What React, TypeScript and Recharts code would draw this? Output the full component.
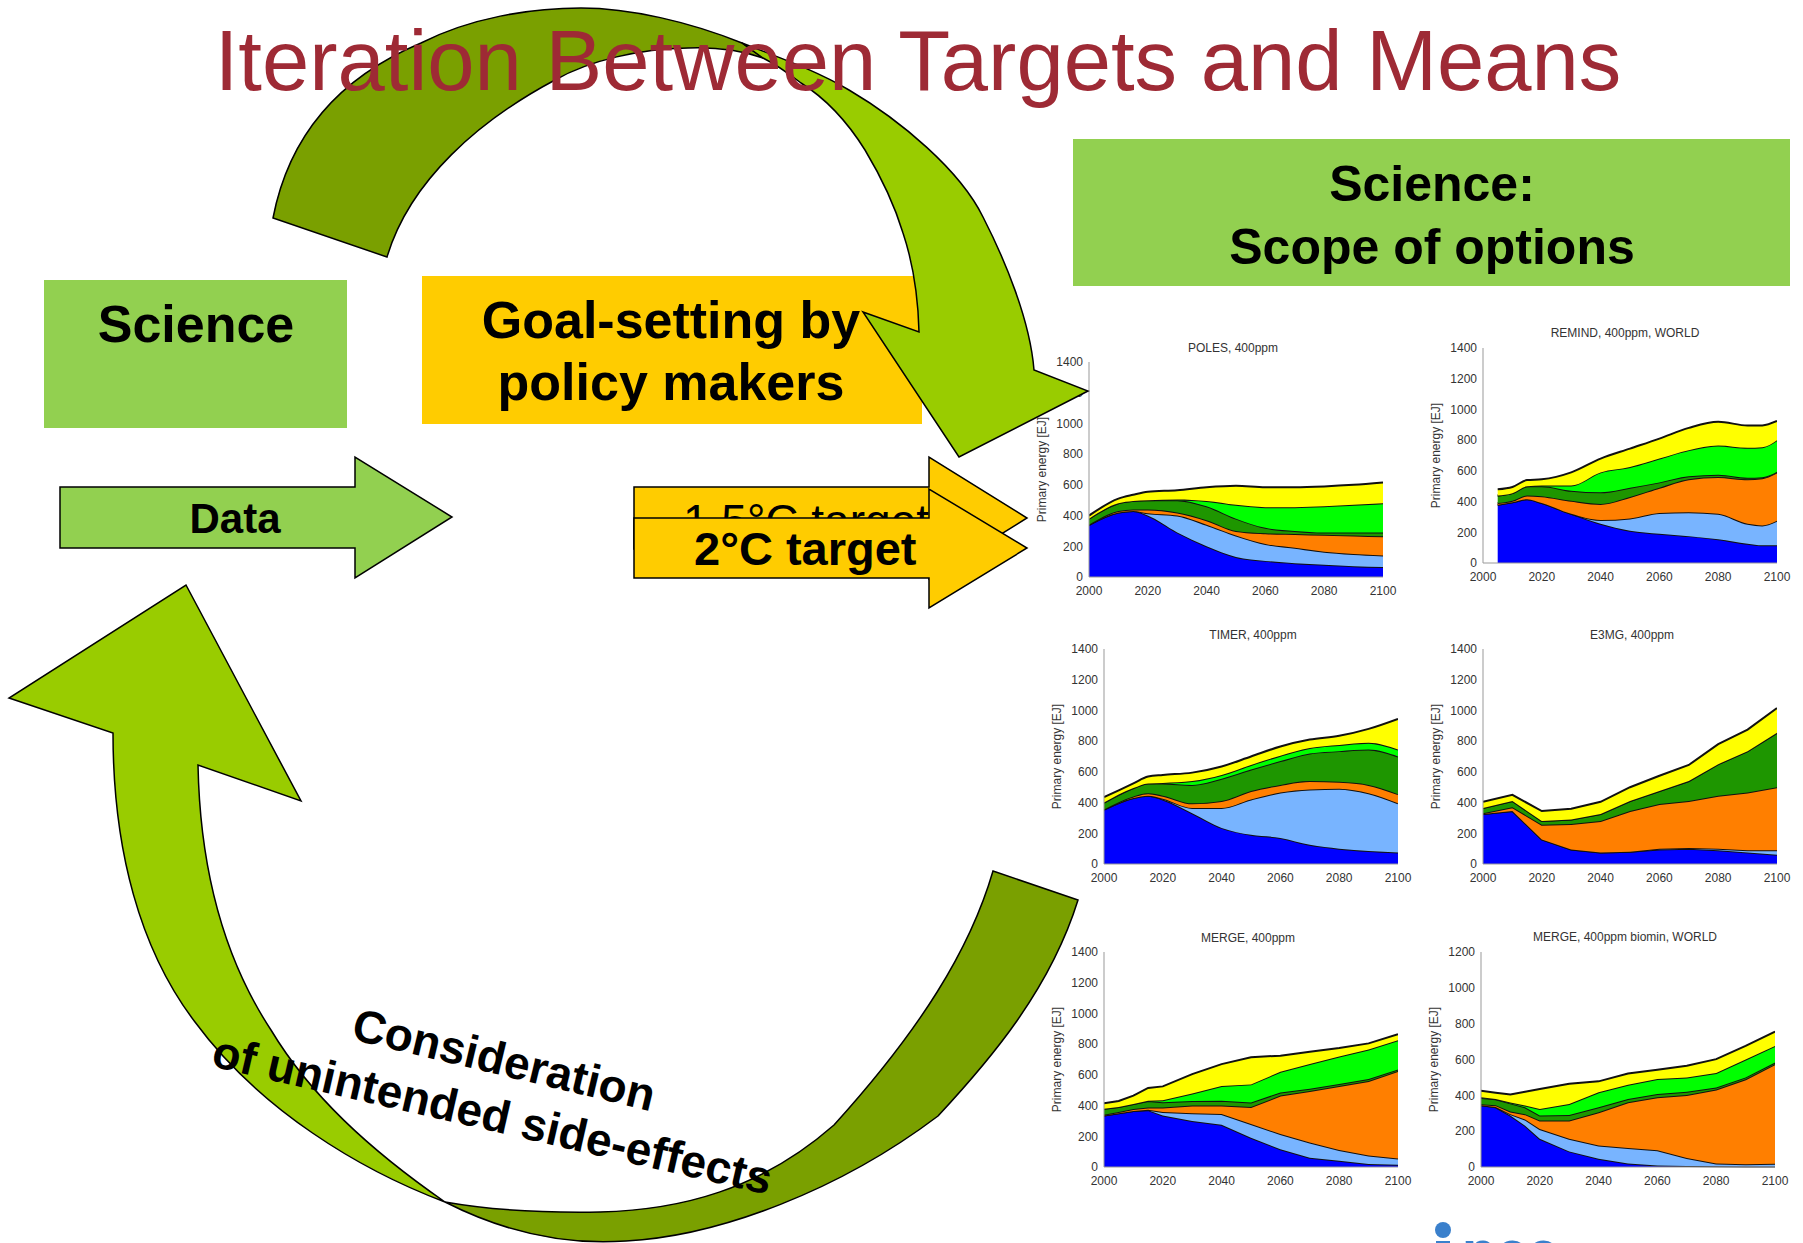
import React from 'react';
import { AreaChart, Area, XAxis, YAxis } from 'recharts';

// stacked primary energy layers, bottom to top: blue, light blue, orange, dark green, green, yellow
const LAYER_KEYS = ['blue', 'lightBlue', 'orange', 'darkGreen', 'green', 'yellow'];
const LAYER_COLORS = ['#0000FF', '#78B4FF', '#FF7F00', '#1E9600', '#00FF00', '#FFFF00'];

const X_TICKS = [2000, 2020, 2040, 2060, 2080, 2100];
const Y_TICKS_1400 = [0, 200, 400, 600, 800, 1000, 1200, 1400];
const Y_TICKS_1200 = [0, 200, 400, 600, 800, 1000, 1200];

const POLES_YEARS = [2000, 2010, 2015, 2020, 2030, 2040, 2050, 2060, 2070, 2080, 2090, 2100];
const POLES_BLUE = [340, 420, 430, 400, 290, 200, 130, 105, 90, 80, 70, 65];
const POLES_LIGHTBLUE = [0, 0, 0, 15, 110, 140, 140, 110, 100, 85, 80, 75];
const POLES_ORANGE = [0, 10, 10, 25, 20, 30, 30, 70, 90, 110, 120, 125];
const POLES_DARKGREEN = [40, 50, 55, 60, 80, 90, 80, 35, 20, 15, 20, 25];
const POLES_GREEN = [0, 0, 0, 0, 5, 35, 90, 135, 155, 170, 180, 190];
const POLES_YELLOW = [20, 30, 40, 55, 60, 90, 125, 130, 130, 130, 130, 135];

const REMIND_YEARS = [2005, 2010, 2015, 2020, 2030, 2040, 2050, 2060, 2070, 2080, 2090, 2095, 2100];
const REMIND_BLUE = [380, 395, 415, 390, 320, 255, 210, 190, 175, 155, 125, 115, 115];
const REMIND_LIGHTBLUE = [0, 0, 0, 0, 0, 25, 80, 135, 155, 165, 130, 130, 160];
const REMIND_ORANGE = [10, 10, 25, 45, 85, 105, 140, 165, 215, 240, 290, 307, 315];
const REMIND_DARKGREEN = [50, 50, 60, 65, 65, 75, 60, 35, 20, 15, 10, 7, 5];
const REMIND_GREEN = [0, 0, 0, 5, 35, 130, 135, 155, 170, 190, 195, 195, 205];
const REMIND_YELLOW = [40, 40, 40, 40, 85, 90, 120, 130, 145, 155, 145, 142, 125];

const TIMER_YEARS = [2000, 2010, 2015, 2020, 2030, 2040, 2050, 2060, 2070, 2080, 2090, 2100];
const TIMER_BLUE = [355, 430, 445, 420, 330, 235, 190, 170, 125, 100, 85, 75];
const TIMER_LIGHTBLUE = [0, 0, 0, 5, 35, 130, 230, 295, 360, 390, 375, 320];
const TIMER_ORANGE = [0, 10, 15, 20, 30, 45, 55, 50, 55, 45, 55, 60];
const TIMER_DARKGREEN = [45, 55, 65, 80, 120, 145, 140, 155, 180, 200, 230, 245];
const TIMER_GREEN = [0, 0, 0, 3, 25, 25, 30, 35, 35, 40, 45, 45];
const TIMER_YELLOW = [35, 30, 45, 52, 55, 55, 55, 60, 55, 60, 90, 200];

const E3MG_YEARS = [2000, 2010, 2020, 2030, 2040, 2050, 2060, 2070, 2080, 2090, 2100];
const E3MG_BLUE = [325, 345, 160, 95, 75, 80, 95, 100, 90, 75, 60];
const E3MG_LIGHTBLUE = [0, 0, 0, 0, 0, 0, 5, 5, 10, 15, 30];
const E3MG_ORANGE = [5, 25, 95, 165, 205, 265, 290, 305, 345, 375, 410];
const E3MG_DARKGREEN = [35, 40, 25, 30, 45, 65, 85, 130, 205, 270, 355];
const E3MG_GREEN = [0, 0, 0, 0, 0, 0, 0, 0, 0, 0, 0];
const E3MG_YELLOW = [40, 40, 65, 70, 80, 90, 100, 105, 130, 140, 160];

const MERGE_YEARS = [2000, 2005, 2010, 2015, 2020, 2030, 2040, 2050, 2060, 2070, 2080, 2090, 2100];
const MERGE_BLUE = [335, 350, 365, 370, 335, 300, 275, 190, 115, 60, 40, 20, 15];
const MERGE_LIGHTBLUE = [0, 0, 0, 2, 23, 50, 70, 90, 100, 100, 70, 55, 40];
const MERGE_ORANGE = [5, 8, 13, 16, 30, 50, 55, 110, 250, 335, 418, 485, 570];
const MERGE_DARKGREEN = [40, 32, 32, 42, 34, 30, 32, 30, 20, 15, 12, 13, 10];
const MERGE_GREEN = [0, 0, 0, 2, 12, 48, 96, 118, 135, 160, 180, 192, 190];
const MERGE_YELLOW = [35, 40, 55, 83, 91, 127, 142, 177, 105, 80, 55, 40, 40];

const BIOMIN_YEARS = [2000, 2005, 2010, 2015, 2020, 2030, 2040, 2050, 2060, 2070, 2080, 2090, 2100];
const BIOMIN_BLUE = [345, 333, 287, 230, 157, 87, 46, 19, 9, 6, 4, 3, 3];
const BIOMIN_LIGHTBLUE = [0, 2, 8, 35, 55, 70, 74, 87, 84, 44, 16, 12, 15];
const BIOMIN_ORANGE = [5, 10, 15, 30, 47, 102, 185, 255, 296, 352, 412, 475, 556];
const BIOMIN_DARKGREEN = [35, 33, 45, 38, 28, 31, 28, 19, 18, 18, 12, 10, 9];
const BIOMIN_GREEN = [5, 2, 5, 10, 37, 62, 84, 79, 84, 80, 80, 100, 93];
const BIOMIN_YELLOW = [35, 35, 45, 77, 111, 113, 61, 63, 52, 65, 78, 76, 80];

const toRows = (years: number[], layers: number[][]) =>
  years.map((year, i) => {
    const row: Record<string, number> = { year };
    LAYER_KEYS.forEach((k, j) => { row[k] = layers[j][i]; });
    return row;
  });

const FONT = '"Liberation Sans", Arial, sans-serif';

const PLOT_W = 294;
const PLOT_H = 215;
const AXIS_W = 60;
const TOP_PAD = 10;
const RIGHT_PAD = 22;
const X_AXIS_H = 26;

const PANELS = [
  { title: 'POLES, 400ppm', rows: toRows(POLES_YEARS, [POLES_BLUE, POLES_LIGHTBLUE, POLES_ORANGE, POLES_DARKGREEN, POLES_GREEN, POLES_YELLOW]), curve: 'monotone', yMax: 1400, yTicks: Y_TICKS_1400, left: 1089, top: 362, titleX: 1233, titleY: 348 },
  { title: 'REMIND, 400ppm, WORLD', rows: toRows(REMIND_YEARS, [REMIND_BLUE, REMIND_LIGHTBLUE, REMIND_ORANGE, REMIND_DARKGREEN, REMIND_GREEN, REMIND_YELLOW]), curve: 'monotone', yMax: 1400, yTicks: Y_TICKS_1400, left: 1483, top: 348, titleX: 1625, titleY: 333 },
  { title: 'TIMER, 400ppm', rows: toRows(TIMER_YEARS, [TIMER_BLUE, TIMER_LIGHTBLUE, TIMER_ORANGE, TIMER_DARKGREEN, TIMER_GREEN, TIMER_YELLOW]), curve: 'monotone', yMax: 1400, yTicks: Y_TICKS_1400, left: 1104, top: 649, titleX: 1253, titleY: 635 },
  { title: 'E3MG, 400ppm', rows: toRows(E3MG_YEARS, [E3MG_BLUE, E3MG_LIGHTBLUE, E3MG_ORANGE, E3MG_DARKGREEN, E3MG_GREEN, E3MG_YELLOW]), curve: 'linear', yMax: 1400, yTicks: Y_TICKS_1400, left: 1483, top: 649, titleX: 1632, titleY: 635 },
  { title: 'MERGE, 400ppm', rows: toRows(MERGE_YEARS, [MERGE_BLUE, MERGE_LIGHTBLUE, MERGE_ORANGE, MERGE_DARKGREEN, MERGE_GREEN, MERGE_YELLOW]), curve: 'linear', yMax: 1400, yTicks: Y_TICKS_1400, left: 1104, top: 952, titleX: 1248, titleY: 938 },
  { title: 'MERGE, 400ppm biomin, WORLD', rows: toRows(BIOMIN_YEARS, [BIOMIN_BLUE, BIOMIN_LIGHTBLUE, BIOMIN_ORANGE, BIOMIN_DARKGREEN, BIOMIN_GREEN, BIOMIN_YELLOW]), curve: 'linear', yMax: 1200, yTicks: Y_TICKS_1200, left: 1481, top: 952, titleX: 1625, titleY: 937 },
];

const tickStyle = { fontSize: 12, fill: '#333', fontFamily: FONT };

const Panel = ({ p }: { p: any }) => (
  <>
    <div
      style={{
        position: 'absolute', left: p.titleX, top: p.titleY, transform: 'translate(-50%, -50%)',
        fontFamily: FONT, fontSize: 12, color: '#333', whiteSpace: 'nowrap',
      }}
    >
      {p.title}
    </div>
    <div style={{ position: 'absolute', left: p.left - AXIS_W, top: p.top - TOP_PAD }}>
      <AreaChart
        width={AXIS_W + PLOT_W + RIGHT_PAD}
        height={TOP_PAD + PLOT_H + X_AXIS_H}
        data={p.rows}
        margin={{ top: TOP_PAD, right: RIGHT_PAD, bottom: 0, left: 0 }}
      >
        <XAxis
          type="number" dataKey="year" domain={[2000, 2100]} ticks={X_TICKS} height={X_AXIS_H}
          tickLine={false} tickSize={5} tickMargin={4} axisLine={{ stroke: '#999' }} tick={tickStyle}
          allowDataOverflow
        />
        <YAxis
          type="number" domain={[0, p.yMax]} ticks={p.yTicks} width={AXIS_W}
          tickLine={false} tickSize={4} tickMargin={2} axisLine={{ stroke: '#999' }} tick={tickStyle}
          label={{ value: 'Primary energy [EJ]', angle: -90, position: 'insideLeft', offset: 13, style: { textAnchor: 'middle', fontSize: 12, fill: '#333', fontFamily: FONT } }}
        />
        {LAYER_KEYS.map((k, i) => (
          <Area
            key={k} dataKey={k} stackId="a" type={p.curve} fill={LAYER_COLORS[i]} fillOpacity={1}
            stroke="#111" strokeWidth={2} dot={false} activeDot={false} isAnimationActive={false}
          />
        ))}
      </AreaChart>
    </div>
  </>
);

const DARK = '#7AA000';
const LIGHT = '#99CC00';
const BOX_GREEN = '#92D050';
const BOX_YELLOW = '#FFCC00';

const Diagram = () => (
  <svg width={1803} height={1243} style={{ position: 'absolute', left: 0, top: 0, pointerEvents: 'none' }} fontFamily={FONT}>
    {/* boxes */}
    <rect x={44} y={280} width={303} height={148} fill={BOX_GREEN} />
    <text x={196} y={342} fontSize={52} fontWeight="bold" textAnchor="middle">Science</text>

    <rect x={422} y={276} width={500} height={148} fill={BOX_YELLOW} />
    <text x={671} y={338} fontSize={52} fontWeight="bold" textAnchor="middle">Goal-setting by</text>
    <text x={671} y={400} fontSize={52} fontWeight="bold" textAnchor="middle">policy makers</text>

    <rect x={1073} y={139} width={717} height={147} fill={BOX_GREEN} />
    <text x={1432} y={201} fontSize={50} fontWeight="bold" textAnchor="middle">Science:</text>
    <text x={1432} y={264} fontSize={50} fontWeight="bold" textAnchor="middle">Scope of options</text>

    {/* data arrow */}
    <path d="M60,487 L355,487 L355,457 L452,517 L355,578 L355,548 L60,548 Z" fill={BOX_GREEN} stroke="#000" strokeWidth={1.5} />
    <text x={235} y={533} fontSize={42} fontWeight="bold" textAnchor="middle">Data</text>

    {/* target arrows */}
    <path d="M634,487 L929,487 L929,457 L1027,518 L929,579 L929,549 L634,549 Z" fill={BOX_YELLOW} stroke="#000" strokeWidth={1.5} />
    <text x={683} y={537} fontSize={46}>1.5°C target</text>
    <path d="M634,518 L929,518 L929,489 L1027,548 L929,608 L929,578 L634,578 Z" fill={BOX_YELLOW} stroke="#000" strokeWidth={1.5} />
    <text x={694} y={565} fontSize={47} fontWeight="bold">2°C target</text>

    {/* upper curved arrow */}
    <path
      d="M273,218 C290,130 345,75 421,43 C470,18 530,8 581,8 C630,8 690,22 742,43 L763,58 C740,50 715,47 688,48 C640,49 590,60 555,80 C480,120 410,180 387,257 Z"
      fill={DARK} stroke="#000" strokeWidth={1.5}
    />
    <path
      d="M742,43 C780,58 815,70 849,90 C900,120 960,170 983,217 C1005,260 1030,320 1034,370 L1088,391 L959,457 L863,312 L919,332 C918,290 912,260 903,233 C893,200 880,175 865,150 C845,118 825,98 801,83 C788,73 775,64 763,58 Z"
      fill={LIGHT} stroke="#000" strokeWidth={1.5}
    />

    {/* lower curved arrow */}
    <path
      d="M445,1202 C510,1235 570,1245 626,1241 C720,1236 840,1190 938,1116 C990,1060 1050,990 1078,900 L993,871 C970,950 920,1030 834,1125 C760,1190 680,1210 600,1212 C540,1213 490,1210 445,1202 Z"
      fill={DARK} stroke="#000" strokeWidth={1.5}
    />
    <path
      d="M186,585 L301,801 L198,765 C200,870 225,960 271,1030 C310,1095 370,1150 445,1202 C360,1170 260,1110 195,1022 C140,950 113,850 113,733 L9,698 Z"
      fill={LIGHT} stroke="#000" strokeWidth={1.5}
    />
    <text x={350} y={1039} fontSize={46} fontWeight="bold" transform="rotate(13.5 350 1039)">Consideration</text>
    <text x={210} y={1066} fontSize={46} fontWeight="bold" transform="rotate(13 210 1066)">of unintended side-effects</text>

    {/* title */}
    <text x={918} y={90} fontSize={85} fill="#9E2A35" textAnchor="middle">Iteration Between Targets and Means</text>

    {/* logo fragment */}
    <circle cx={1443} cy={1230} r={8} fill="#3A80CC" />
    <rect x={1436} y={1241} width={14} height={10} fill="#3A80CC" />
    <text x={1462} y={1270} fontSize={56} fontWeight="bold" fill="#3A80CC">pcc</text>
  </svg>
);

export default function App() {
  return (
    <div style={{ position: 'relative', width: 1803, height: 1243, background: '#fff', overflow: 'hidden' }}>
      <style>{'body{margin:0}'}</style>
      {PANELS.map((p) => <Panel key={p.title} p={p} />)}
      <Diagram />
    </div>
  );
}
